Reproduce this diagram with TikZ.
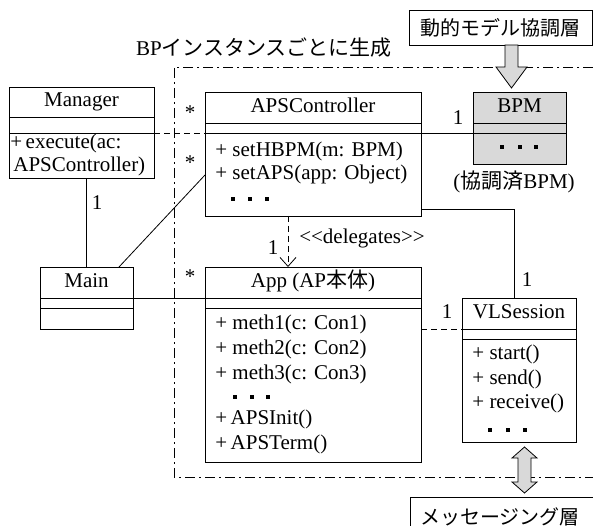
\documentclass[tikz,border=0pt]{standalone}
\usepackage{fontspec}
\setmainfont{Liberation Serif}
\newfontfamily\jp{Noto Sans CJK JP}
\usetikzlibrary{arrows.meta}
\begin{document}
\begin{tikzpicture}[x=1pt,y=-1pt, line width=0.8pt,
  font=\fontsize{21}{25}\selectfont,
  cls/.style={draw, inner sep=0pt, outer sep=0pt, anchor=north west},
  txt/.style={inner sep=0pt, text height=14pt, text depth=4pt, anchor=west},
  ttl/.style={inner sep=0pt, text height=14pt, text depth=4pt},
  lbl/.style={inner sep=0pt},
  dd/.style={dash pattern=on 6pt off 4pt},
  dashdot/.style={dash pattern=on 10pt off 4pt on 2pt off 4pt},
  hollow/.style={draw, fill=gray!30, line width=0.8pt},
  jpfont/.style={font=\fontsize{20}{24}\selectfont\jp}]

\useasboundingbox (0,0) rectangle (593,526);

% instance boundary
\draw[dashdot] (593,67) -- (174,67) -- (174,477) -- (593,477);

% classes
\node[cls, minimum width=145pt, minimum height=91pt] (mgr) at (9,87) {};
\node[cls, minimum width=216pt, minimum height=124pt] (apsc) at (205,92) {};
\node[cls, fill=gray!30, minimum width=93pt, minimum height=72pt] (bpm) at (473,92) {};
\node[cls, minimum width=93pt, minimum height=62pt] (main) at (40,267) {};
\node[cls, minimum width=216pt, minimum height=195pt] (app) at (205,267) {};
\node[cls, minimum width=114pt, minimum height=144pt] (vls) at (462,298) {};

% compartments
\foreach \n/\a/\b in {mgr/117/133, apsc/123/133, bpm/123/133, main/298/308, app/298/308, vls/329/339}{
  \draw (\n.west |- 0,\a) -- (\n.east |- 0,\a);
  \draw (\n.west |- 0,\b) -- (\n.east |- 0,\b);
}

% titles
\node[ttl] (mgrT) at (81.5,102) {Manager};
\node[ttl] (apscT) at (313,107.5) {APSController};
\node[ttl] (bpmT) at (519.5,107.5) {BPM};
\node[ttl] (mainT) at (86.5,282.5) {Main};
\node[ttl] (appT) at (313,282.5) {App (AP{\jp 本体})};
\node[ttl] (vlsT) at (519,313.5) {VLSession};

% operations
\node[txt] (mgrO1) at (10,144) {+\,execute(ac:};
\node[txt] (mgrO2) at (13,167) {APSController)};
\node[txt] (apscO1) at (215,152) {+ setHBPM(m: BPM)};
\node[txt] (apscO2) at (215,175) {+ setAPS(app: Object)};
\node[txt] (appO1) at (215,324) {+ meth1(c: Con1)};
\node[txt] (appO2) at (215,349) {+ meth2(c: Con2)};
\node[txt] (appO3) at (215,374) {+ meth3(c: Con3)};
\node[txt] (appO4) at (215,419) {+\,APSInit()};
\node[txt] (appO5) at (215,444) {+\,APSTerm()};
\node[txt] (vlsO1) at (472,354) {+ start()};
\node[txt] (vlsO2) at (472,379) {+ send()};
\node[txt] (vlsO3) at (472,403) {+ receive()};

% ellipsis dots
\foreach \x/\y in {233/199,250/199,267/199, 502/147,520/147,536/147, 235/397,252/397,268/397, 490/430,508/430,525/430}
  \fill (\x-2,\y-2) rectangle +(4,4);

% captions
\node[lbl] (bpmC) at (514,182) {({\jp 協調済}BPM)};
\node[lbl] (bpLbl) at (264,48) {BP{\jp インスタンスごとに生成}};
\node[lbl] (dlg) at (362,238) {\textless{}\textless{}delegates\textgreater{}\textgreater{}};

% layer boxes
\node[draw, inner sep=0pt, minimum width=183pt, minimum height=35pt, jpfont] (dyn) at (500.5,27.5) {動的モデル協調層};
\draw (410,526) -- (410,497) -- (593,497);
\node[lbl, jpfont] (msg) at (500,517) {メッセージング層};

% hollow arrows
\draw[hollow] (505,45) -- (518,45) -- (518,67) -- (527,67) -- (511.5,88) -- (496,67) -- (505,67) -- cycle;
\draw[hollow] (524.5,447) -- (537,458) -- (531,458) -- (531,482) -- (537,482) -- (524.5,493) -- (512,482) -- (518,482) -- (518,458) -- (512,458) -- cycle;

% connectors
\draw[dd] (mgr.east |- 0,133) -- (apsc.west |- 0,133);
\draw (apsc.east |- 0,133) -- (bpm.west |- 0,133);
\draw (main.north) -- (main.north |- mgr.south);
\draw (main.north -| 119,0) -- (apsc.west |- 0,175);
\draw (main.east |- 0,298) -- (app.west |- 0,298);
\draw[dd, -{Straight Barb[length=9pt,width=16pt]}] (apsc.south -| 288,0) -- (app.north -| 288,0);
\draw (apsc.east |- 0,209) -| (vls.north -| 514,0);
\draw[dd] (app.east |- 0,329) -- (vls.west |- 0,329);

% multiplicities
\node[lbl] (s1) at (190,113) {*};
\node[lbl] (s2) at (190,163) {*};
\node[lbl] (s3) at (190,277) {*};
\node[lbl] (n1) at (97,203) {1};
\node[lbl] (n2) at (458,118) {1};
\node[lbl] (n3) at (527,280) {1};
\node[lbl] (n4) at (447,312) {1};
\node[lbl] (n5) at (273,248) {1};
\end{tikzpicture}
\end{document}
